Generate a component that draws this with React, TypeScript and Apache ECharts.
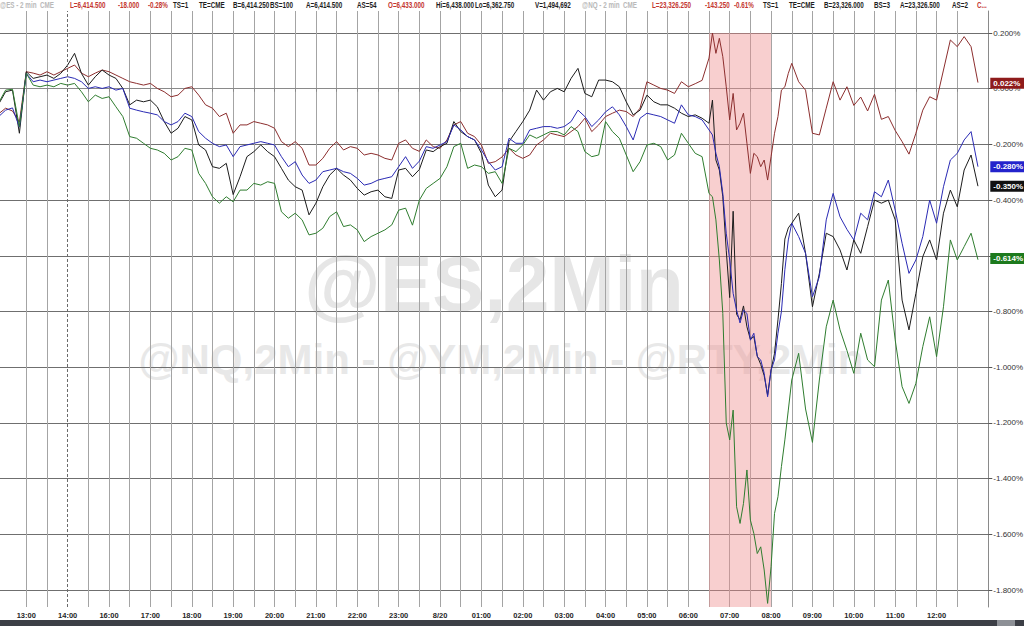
import React, { useEffect, useRef } from 'react';
import * as echarts from 'echarts';

// ---------- data ----------
const times = [
  '12:20','12:30','12:40','12:50','13:00','13:10','13:20','13:30','13:40','13:50','14:00','14:10','14:20','14:30','14:40','14:50',
  '16:00','16:10','16:20','16:30','16:40','16:50','17:00','17:10','17:20','17:30','17:40','17:50',
  '18:00','18:10','18:20','18:30','18:40','18:50','19:00','19:10','19:20','19:30','19:40','19:50',
  '20:00','20:10','20:20','20:30','20:40','20:50','21:00','21:10','21:20','21:30','21:40','21:50',
  '22:00','22:10','22:20','22:30','22:40','22:50','23:00','23:10','23:20','23:30','23:40','23:50',
  '00:00','00:10','00:20','00:30','00:40','00:50','01:00','01:10','01:20','01:30','01:40','01:50',
  '02:00','02:10','02:20','02:30','02:40','02:50','03:00','03:10','03:20','03:30','03:40','03:50',
  '04:00','04:10','04:20','04:30','04:40','04:50','05:00','05:10','05:20','05:30','05:40','05:50',
  '06:00','06:10','06:20',
  '06:30','06:35','06:40','06:45','06:50','06:55','07:00','07:05','07:10','07:15','07:20','07:25',
  '07:30','07:35','07:40','07:45','07:50','07:55','08:00','08:05','08:10','08:15','08:20','08:25',
  '08:30',
  '08:40','08:50','09:00','09:10','09:20','09:30','09:40','09:50','10:00','10:10','10:20','10:30',
  '10:40','10:50','11:00','11:10','11:20','11:30','11:40','11:50','12:00','12:10','12:20','12:30',
  '12:40','12:50','13:00',
];

// @YM (dark red), % change
const ymValues = [
  -0.090,-0.070,-0.080,-0.120,0.061,0.056,0.049,0.061,0.049,0.061,0.073,0.085,0.056,0.043,0.056,0.067,
  0.061,0.049,0.037,0.025,0.019,0.013,0.019,0.001,-0.011,-0.029,-0.023,0.001,
  0.007,-0.023,-0.058,-0.070,-0.100,-0.088,-0.160,-0.130,-0.130,-0.118,-0.124,-0.130,
  -0.142,-0.190,-0.208,-0.190,-0.214,-0.274,-0.274,-0.250,-0.214,-0.190,-0.220,-0.208,
  -0.214,-0.238,-0.232,-0.238,-0.250,-0.256,-0.196,-0.184,-0.214,-0.225,-0.184,-0.208,
  -0.214,-0.184,-0.130,-0.118,-0.160,-0.172,-0.202,-0.268,-0.262,-0.245,-0.214,-0.238,
  -0.250,-0.238,-0.202,-0.184,-0.160,-0.166,-0.172,-0.154,-0.136,-0.106,-0.154,-0.130,
  -0.100,-0.088,-0.077,-0.082,-0.100,-0.070,0.025,0.013,0.001,-0.005,-0.017,0.025,
  0.007,0.018,0.030,
  0.110,0.200,0.127,0.181,0.115,0.007,-0.112,-0.017,-0.148,-0.124,-0.088,-0.196,
  -0.304,-0.232,-0.244,-0.280,-0.256,-0.328,-0.244,-0.160,-0.100,-0.005,0.007,0.055,
  0.091,
  0.025,-0.005,-0.160,-0.166,-0.070,0.025,-0.041,0.007,-0.060,-0.030,-0.080,-0.020,
  -0.110,-0.100,-0.150,-0.190,-0.235,-0.160,-0.077,-0.029,-0.041,0.067,0.175,0.151,
  0.187,0.151,0.022,
];

// @ES (blue)
const esValues = [
  -0.100,-0.077,-0.069,-0.138,0.055,0.025,0.031,0.025,0.031,0.037,0.043,0.037,0.025,0.001,0.007,0.001,
  0.007,-0.005,0.001,-0.070,-0.077,-0.083,-0.088,-0.094,-0.118,-0.130,-0.118,-0.088,
  -0.100,-0.154,-0.178,-0.196,-0.208,-0.202,-0.244,-0.208,-0.202,-0.196,-0.190,-0.196,
  -0.202,-0.244,-0.280,-0.262,-0.310,-0.340,-0.328,-0.298,-0.292,-0.286,-0.298,-0.304,
  -0.322,-0.346,-0.340,-0.328,-0.322,-0.316,-0.280,-0.244,-0.286,-0.260,-0.208,-0.214,
  -0.202,-0.190,-0.130,-0.148,-0.172,-0.184,-0.220,-0.262,-0.292,-0.280,-0.178,-0.196,
  -0.196,-0.148,-0.142,-0.136,-0.136,-0.142,-0.136,-0.118,-0.077,-0.100,-0.136,-0.112,
  -0.083,-0.065,-0.094,-0.136,-0.184,-0.106,-0.088,-0.094,-0.100,-0.112,-0.124,-0.058,
  -0.094,-0.100,-0.112,
  -0.148,-0.166,-0.232,-0.280,-0.376,-0.519,-0.615,-0.735,-0.795,-0.841,-0.795,-0.807,
  -0.903,-0.878,-0.962,-0.974,-1.022,-1.106,-1.010,-0.974,-0.878,-0.800,-0.650,-0.543,
  -0.483,
  -0.531,-0.591,-0.747,-0.675,-0.471,-0.376,-0.460,-0.505,-0.543,-0.447,-0.471,-0.370,
  -0.388,-0.328,-0.436,-0.555,-0.663,-0.615,-0.531,-0.400,-0.483,-0.352,-0.256,-0.232,
  -0.184,-0.154,-0.280,
];

// @RTY (black)
const rtyValues = [
  -0.055,-0.011,-0.005,-0.160,0.061,0.037,0.043,0.049,0.037,0.055,0.085,0.127,0.055,0.013,0.043,0.067,
  0.049,0.037,0.001,-0.058,-0.041,-0.047,-0.041,-0.065,-0.118,-0.160,-0.142,-0.100,
  -0.112,-0.202,-0.220,-0.280,-0.286,-0.268,-0.380,-0.316,-0.244,-0.226,-0.202,-0.226,
  -0.244,-0.286,-0.328,-0.352,-0.364,-0.453,-0.411,-0.352,-0.310,-0.286,-0.310,-0.328,
  -0.358,-0.382,-0.370,-0.364,-0.388,-0.394,-0.292,-0.286,-0.316,-0.290,-0.220,-0.226,
  -0.208,-0.196,-0.118,-0.154,-0.172,-0.184,-0.232,-0.346,-0.388,-0.364,-0.190,-0.154,
  -0.118,-0.077,-0.005,-0.041,-0.011,0.001,-0.011,0.037,0.073,-0.017,-0.029,0.031,
  0.031,0.025,0.007,-0.047,-0.094,-0.077,-0.023,-0.047,-0.058,-0.058,-0.070,-0.088,
  -0.100,-0.094,-0.106,
  -0.124,-0.041,-0.256,-0.292,-0.388,-0.580,-0.750,-0.440,-0.810,-0.830,-0.780,-0.855,
  -0.900,-0.890,-0.960,-0.990,-1.030,-1.100,-1.010,-0.950,-0.830,-0.700,-0.540,-0.500,
  -0.483,
  -0.447,-0.591,-0.783,-0.663,-0.519,-0.531,-0.579,-0.651,-0.543,-0.591,-0.495,-0.400,
  -0.411,-0.400,-0.471,-0.759,-0.866,-0.735,-0.603,-0.543,-0.615,-0.447,-0.364,-0.424,
  -0.292,-0.238,-0.350,
];

// @NQ (green)
const nqValues = [
  -0.050,-0.005,-0.002,-0.136,0.055,0.013,0.007,0.013,0.007,0.019,0.013,0.019,-0.011,-0.047,-0.023,-0.035,
  -0.029,-0.065,-0.100,-0.172,-0.178,-0.196,-0.214,-0.220,-0.232,-0.256,-0.244,-0.214,
  -0.220,-0.304,-0.340,-0.388,-0.411,-0.388,-0.406,-0.364,-0.364,-0.340,-0.346,-0.334,
  -0.340,-0.442,-0.465,-0.447,-0.471,-0.525,-0.519,-0.501,-0.459,-0.442,-0.495,-0.489,
  -0.507,-0.549,-0.531,-0.519,-0.507,-0.489,-0.436,-0.429,-0.490,-0.400,-0.358,-0.340,
  -0.322,-0.280,-0.208,-0.196,-0.286,-0.274,-0.280,-0.304,-0.298,-0.340,-0.214,-0.226,
  -0.202,-0.166,-0.178,-0.166,-0.154,-0.154,-0.166,-0.136,-0.154,-0.226,-0.244,-0.238,
  -0.118,-0.154,-0.178,-0.238,-0.298,-0.262,-0.202,-0.196,-0.208,-0.256,-0.238,-0.160,
  -0.196,-0.232,-0.244,
  -0.376,-0.388,-0.471,-0.615,-0.807,-1.200,-1.261,-1.154,-1.501,-1.561,-1.489,-1.369,
  -1.549,-1.597,-1.669,-1.645,-1.728,-1.848,-1.716,-1.525,-1.465,-1.357,-1.261,-1.154,
  -1.046,
  -0.950,-1.150,-1.270,-1.046,-0.855,-0.759,-0.866,-0.940,-1.022,-0.878,-0.974,-0.998,
  -0.759,-0.687,-0.902,-1.070,-1.130,-1.058,-0.926,-0.819,-0.962,-0.783,-0.543,-0.615,
  -0.567,-0.519,-0.614,
];

const seriesNames = ['@YM', '@RTY', '@ES', '@NQ'];
const highlightFrom = '06:30';
const highlightTo = '08:00';
const highlightTop = 0.2;
const sessionMarker = '14:00';
const dateLabel = '8/20';
const yMin = -1.861;
const yMax = 0.279;

const headerTexts = [
  '@ES - 2 min  CME', 'L=6,414.500', '-18.000', '-0.28%', 'TS=1', 'TE=CME', 'B=6,414.250', 'BS=100',
  'A=6,414.500', 'AS=54', 'O=6,433.000', 'Hi=6,438.000', 'Lo=6,362.750', 'V=1,494,692',
  '@NQ - 2 min  CME', 'L=23,326.250', '-143.250', '-0.61%', 'TS=1', 'TE=CME', 'B=23,326.000', 'BS=3',
  'A=23,326.500', 'AS=2', 'C...',
];
const headerTones = ['g','r','r','r','k','k','k','k','k','k','r','k','k','k','g','r','r','r','k','k','k','k','k','k','r'];
const watermarkMain = '@ES,2Min';
const watermarkSub = '@NQ,2Min - @YM,2Min - @RTY,2Min';

// ---------- layout / style ----------
const FONT = '"Liberation Sans", Arial, Helvetica, sans-serif';
const headerX = [0, 70, 118, 148, 173, 199, 233, 270, 306, 357, 388, 436, 475, 535, 582, 652, 705, 734, 763, 789, 824, 874, 900, 952, 977];
const toneColor: Record<string, string> = { g: '#b9b9b9', r: '#c4362f', k: '#1e1e1e' };
const lineColors = ['#8c2e2e', '#1c1c1c', '#2a2ab4', '#2f7d2f'];
const tagColors = ['#8e1b1b', '#111111', '#2323cc', '#1d7a1d'];

const pad = (n: number) => (n < 10 ? '0' + n : '' + n);

function buildSlots(): string[] {
  const out: string[] = [];
  const add = (day: string, a: number, b: number) => {
    for (let t = a; t <= b; t += 5) out.push(day + ' ' + pad(Math.floor(t / 60)) + ':' + pad(t % 60));
  };
  add('19', 12 * 60 + 20, 14 * 60 + 55);
  add('19', 16 * 60, 23 * 60 + 55);
  add('20', 0, 13 * 60 + 15);
  return out;
}

function keyTimes(list: string[]): string[] {
  let day = '19';
  let prev = '';
  return list.map((t) => {
    if (prev && t < prev) day = '20';
    prev = t;
    return day + ' ' + t;
  });
}

export default function App() {
  const ref = useRef<HTMLDivElement>(null);

  useEffect(() => {
    document.body.style.margin = '0';
    if (!ref.current) return;
    const chart = echarts.init(ref.current, undefined, { renderer: 'svg' });

    const slots = buildSlots();
    const keys = keyTimes(times);
    const firstIdx = slots.indexOf('19 13:00');
    const lastLineIdx = slots.indexOf('20 12:30');
    const markerKey = '19 ' + sessionMarker;
    const tm = (v: string) => v.split(' ')[1];

    const lineFn = (idx: number, val: string) => {
      const t = tm(val);
      const m = t.slice(3);
      return idx >= firstIdx && idx <= lastLineIdx && (m === '00' || m === '30') && val !== markerKey;
    };
    const labelFn = (idx: number, val: string) => {
      const t = tm(val);
      return idx >= firstIdx && idx <= lastLineIdx && t.slice(3) === '00';
    };

    const valueSets = [ymValues, rtyValues, esValues, nqValues];

    const series: any[] = valueSets.map((vals, si) => {
      const last = vals[vals.length - 1];
      const markData: any[] = [
        {
          yAxis: last,
          lineStyle: { color: 'rgba(0,0,0,0)', width: 0 },
          label: {
            show: true,
            position: 'end',
            distance: 2,
            formatter: () => last.toFixed(3) + '%',
            backgroundColor: tagColors[si],
            color: '#ffffff',
            opacity: 1,
            fontSize: 8,
            fontWeight: 'bold',
            fontFamily: FONT,
            padding: [2, 8, 1, 3],
          },
        },
      ];
      if (si === 0) {
        markData.push({
          xAxis: markerKey,
          lineStyle: { type: [3, 2], color: '#6a6a6a', width: 1 },
          label: { show: false },
        });
      }
      const s: any = {
        name: seriesNames[si],
        type: 'line',
        data: vals.map((v, i) => [keys[i], v]),
        showSymbol: false,
        symbol: 'none',
        lineStyle: { width: 1, color: lineColors[si] },
        itemStyle: { color: lineColors[si] },
        markLine: {
          silent: true,
          symbol: ['none', 'none'],
          animation: false,
          data: markData,
        },
      };
      if (si === 0) {
        s.markArea = {
          silent: true,
          z: 1,
          itemStyle: { color: 'rgba(238,140,140,0.42)' },
          data: [[
            { xAxis: '20 ' + highlightFrom, yAxis: highlightTop },
            { xAxis: '20 ' + highlightTo, yAxis: yMin },
          ]],
        };
      }
      return s;
    });

    const graphics: any[] = [];
    headerTexts.forEach((t, i) => {
      graphics.push({
        type: 'text',
        x: headerX[i],
        y: 5,
        scaleX: 0.7,
        style: {
          text: t,
          fill: toneColor[headerTones[i]],
          fontSize: 9,
          fontWeight: 'bold',
          fontFamily: FONT,
          align: 'left',
          verticalAlign: 'middle',
        },
      });
    });
    graphics.push({
      type: 'text', x: 494, y: 284, z: -1, silent: true,
      style: { text: watermarkMain, fill: '#e6e6e6', fontSize: 78, fontWeight: 'bold', fontFamily: FONT, align: 'center', verticalAlign: 'middle' },
    });
    graphics.push({
      type: 'text', x: 501, y: 359, z: -1, silent: true,
      style: { text: watermarkSub, fill: '#e8e8e8', fontSize: 42, fontWeight: 'bold', fontFamily: FONT, align: 'center', verticalAlign: 'middle' },
    });
    graphics.push({ type: 'rect', shape: { x: 0, y: 620, width: 1024, height: 6 }, style: { fill: '#3c3f46' } });
    graphics.push({ type: 'rect', shape: { x: 997, y: 620, width: 18, height: 6 }, style: { fill: '#8d9096' } });

    const option: any = {
      animation: false,
      backgroundColor: '#ffffff',
      textStyle: { fontFamily: FONT },
      grid: { left: -1.3, right: 35.7, top: 11, bottom: 19, containLabel: false, outerBoundsMode: 'none' },
      xAxis: {
        type: 'category',
        data: slots,
        boundaryGap: false,
        axisLine: { show: true, lineStyle: { color: '#8a8a8a' } },
        axisTick: { show: true, length: 3, interval: lineFn, lineStyle: { color: '#8a8a8a' } },
        axisLabel: {
          interval: labelFn,
          formatter: (v: string) => {
            const t = tm(v);
            return t === '00:00' ? dateLabel : t;
          },
          fontSize: 7.5,
          fontWeight: 'bold',
          color: '#262626',
          margin: 4,
          fontFamily: FONT,
        },
        splitLine: { show: true, interval: lineFn, lineStyle: { color: '#a4a4a4', width: 1 } },
      },
      yAxis: {
        type: 'value',
        position: 'right',
        min: yMin,
        max: yMax,
        splitNumber: 10,
        axisLine: { show: true, lineStyle: { color: '#8a8a8a' } },
        axisTick: { show: true, length: 4, lineStyle: { color: '#555555' } },
        axisLabel: {
          formatter: (v: number) => (Math.abs(v) < 1e-9 ? 0 : v).toFixed(3) + '%',
          fontSize: 8,
          color: '#333333',
          margin: 5,
          showMinLabel: false,
          showMaxLabel: false,
          fontFamily: FONT,
        },
        splitLine: { show: true, showMinLine: false, showMaxLine: false, lineStyle: { color: '#6f6f6f', width: 1 } },
      },
      graphic: graphics,
      series,
    };

    chart.setOption(option);
    return () => chart.dispose();
  }, []);

  return (
    <div
      ref={ref}
      style={{ position: 'absolute', left: 0, top: 0, width: 1024, height: 626, background: '#fff' }}
    />
  );
}
